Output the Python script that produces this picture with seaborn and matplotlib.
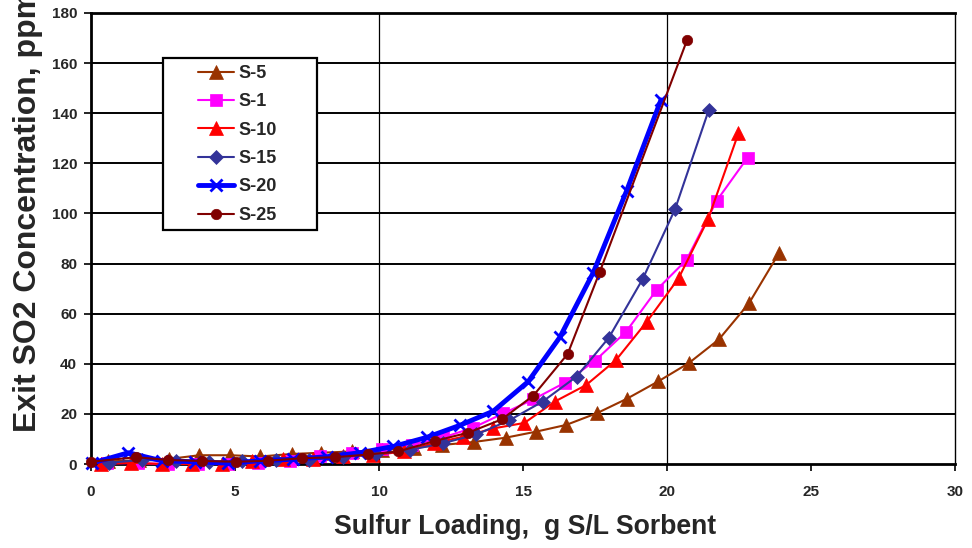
import matplotlib
matplotlib.use("Agg")
import matplotlib.pyplot as plt
from matplotlib.patches import Rectangle
import seaborn as sns
import pandas as pd

# Sulfur loading (g S/L sorbent) and exit SO2 (ppm) for each sorbent
s5_x = [0.6, 1.65, 2.7, 3.76, 4.83, 5.87, 6.97, 8.0, 9.05, 10.1, 11.2, 12.2,
        13.3, 14.4, 15.45, 16.5, 17.57, 18.6, 19.7, 20.76, 21.8, 22.85, 23.9]
s5_y = [1.0, 1.5, 2.0, 3.5, 3.5, 3.0, 4.0, 4.5, 5.0, 5.5, 6.5, 7.6,
        8.8, 10.5, 12.9, 15.6, 20.3, 26.0, 33.0, 40.3, 49.7, 64.2, 84.4]

s1_x = [0.56, 1.64, 2.68, 3.73, 4.77, 5.8, 6.9, 7.95, 9.05, 10.09, 11.13,
        12.23, 13.27, 14.32, 15.36, 16.46, 17.5, 18.58, 19.64, 20.68, 21.72, 22.8]
s1_y = [0.3, 0.3, 0.0, 0.0, 0.0, 0.3, 1.3, 3.0, 4.5, 6.0, 7.6,
        10.6, 14.5, 20.2, 25.8, 32.5, 41.2, 52.8, 69.5, 81.5, 105.0, 122.3]

s10_x = [0.36, 1.4, 2.46, 3.5, 4.56, 5.6, 6.66, 7.7, 8.76, 9.8, 10.86,
         11.9, 12.93, 13.97, 15.05, 16.1, 17.19, 18.23, 19.3, 20.4, 21.43, 22.48]
s10_y = [0.0, 0.5, 0.0, 0.0, 0.0, 1.0, 2.0, 2.0, 3.0, 3.5, 5.0,
         8.3, 10.9, 14.2, 16.4, 24.9, 31.5, 41.5, 56.8, 74.1, 97.8, 132.0]

s15_x = [0.62, 1.78, 2.94, 4.1, 5.26, 6.42, 7.58, 8.74, 9.9, 11.07,
         12.23, 13.38, 14.52, 15.68, 16.86, 17.98, 19.15, 20.28, 21.45]
s15_y = [0.5, 1.6, 1.2, 0.9, 1.2, 1.6, 1.6, 2.9, 4.0, 5.6,
         8.3, 11.8, 17.4, 24.9, 34.9, 50.4, 73.7, 101.7, 141.3]

s20_x = [0.02, 1.3, 2.45, 3.6, 4.77, 5.87, 7.02, 8.18, 9.34, 10.5,
         11.65, 12.8, 13.97, 15.18, 16.28, 17.44, 18.6, 19.79]
s20_y = [0.3, 4.5, 1.3, 0.9, 0.3, 1.3, 1.9, 2.9, 4.5, 7.0,
         10.6, 15.4, 21.1, 32.9, 50.6, 76.4, 109.1, 145.3]

s25_x = [0.0, 1.56, 2.68, 3.84, 5.03, 6.16, 7.31, 8.47, 9.63, 10.67,
         11.94, 13.1, 14.26, 15.36, 16.55, 17.67, 20.7]
s25_y = [0.9, 2.7, 1.6, 1.2, 0.9, 1.3, 2.3, 2.7, 3.8, 5.0,
         9.2, 12.5, 17.8, 27.3, 43.9, 76.8, 169.3]

x_ticks = [0, 5, 10, 15, 20, 25, 30]
y_ticks = [0, 20, 40, 60, 80, 100, 120, 140, 160, 180]

series = [
    ("S-5", s5_x, s5_y, "#993300", "^", 10, 1.5),
    ("S-1", s1_x, s1_y, "#FF00FF", "s", 9, 1.5),
    ("S-10", s10_x, s10_y, "#FF0000", "^", 10, 1.5),
    ("S-15", s15_x, s15_y, "#333399", "D", 7, 1.5),
    ("S-20", s20_x, s20_y, "#0000FF", "x", 9, 3.5),
    ("S-25", s25_x, s25_y, "#800000", "o", 7.5, 1.5),
]

sns.set_theme(style="white")
plt.rcParams["font.family"] = ["Liberation Sans", "DejaVu Sans"]
plt.rcParams["font.weight"] = "bold"

fig = plt.figure(figsize=(9.72, 5.48), dpi=100)
W, H = 972, 548
ax = fig.add_axes([91 / W, 1 - 464 / H, (955 - 91) / W, (464 - 13) / H])

for name, xs, ys, color, mk, ms, lw in series:
    df = pd.DataFrame({"x": xs, "y": ys})
    sns.lineplot(data=df, x="x", y="y", ax=ax, color=color, marker=mk,
                 markersize=ms, linewidth=lw, markeredgecolor=color,
                 markeredgewidth=2.0 if mk == "x" else 0.5,
                 sort=False, estimator=None, label=name, clip_on=False,
                 zorder=3)

ax.set_xlim(0, 30)
ax.set_ylim(0, 180)
ax.set_xticks(x_ticks)
ax.set_yticks(y_ticks)
ax.set_xticklabels([str(v) for v in x_ticks], fontsize=11, fontweight="bold")
ax.set_yticklabels([str(v) for v in y_ticks], fontsize=11, fontweight="bold")
ax.tick_params(axis="both", direction="out", length=5, width=1.2,
               color="black", bottom=True, left=True)
ax.tick_params(axis="x", pad=10)
ax.tick_params(axis="y", pad=5)

# horizontal gridlines heavy, vertical gridlines light
for v in y_ticks[1:-1]:
    ax.axhline(v, color="black", linewidth=1.4, zorder=1)
for v in (10, 20):
    ax.axvline(v, color="black", linewidth=0.9, zorder=1)

for side, lw in (("left", 2.0), ("bottom", 2.0), ("top", 2.0), ("right", 1.0)):
    ax.spines[side].set_visible(True)
    ax.spines[side].set_color("black")
    ax.spines[side].set_linewidth(lw)

ax.set_xlabel("")
ax.set_ylabel("")
fig.text(525 / W, 1 - 527 / H, "Sulfur Loading,  g S/L Sorbent",
         ha="center", va="center", fontsize=19.2, fontweight="bold")
fig.text(28 / W, 1 - 432 / H, "Exit SO2 Concentration, ppm", rotation=90,
         ha="center", va="bottom", fontsize=23, fontweight="bold")

# legend entries without frame, with a separate white box drawn behind them
box = Rectangle((163 / W, 1 - 230 / H), (317 - 163) / W, (230 - 58) / H,
                transform=fig.transFigure, facecolor="white",
                edgecolor="black", linewidth=1.6, zorder=6, clip_on=False)
ax.add_patch(box)
leg = ax.legend(loc="upper left", bbox_to_anchor=(198 / W, 1 - 65 / H),
                bbox_transform=fig.transFigure, frameon=False,
                prop={"weight": "bold", "size": 13}, handlelength=2.0,
                handletextpad=0.25, labelspacing=0.63, borderpad=0.0,
                borderaxespad=0.0)
leg.set_zorder(7)

fig.savefig("out.png", dpi=100)
